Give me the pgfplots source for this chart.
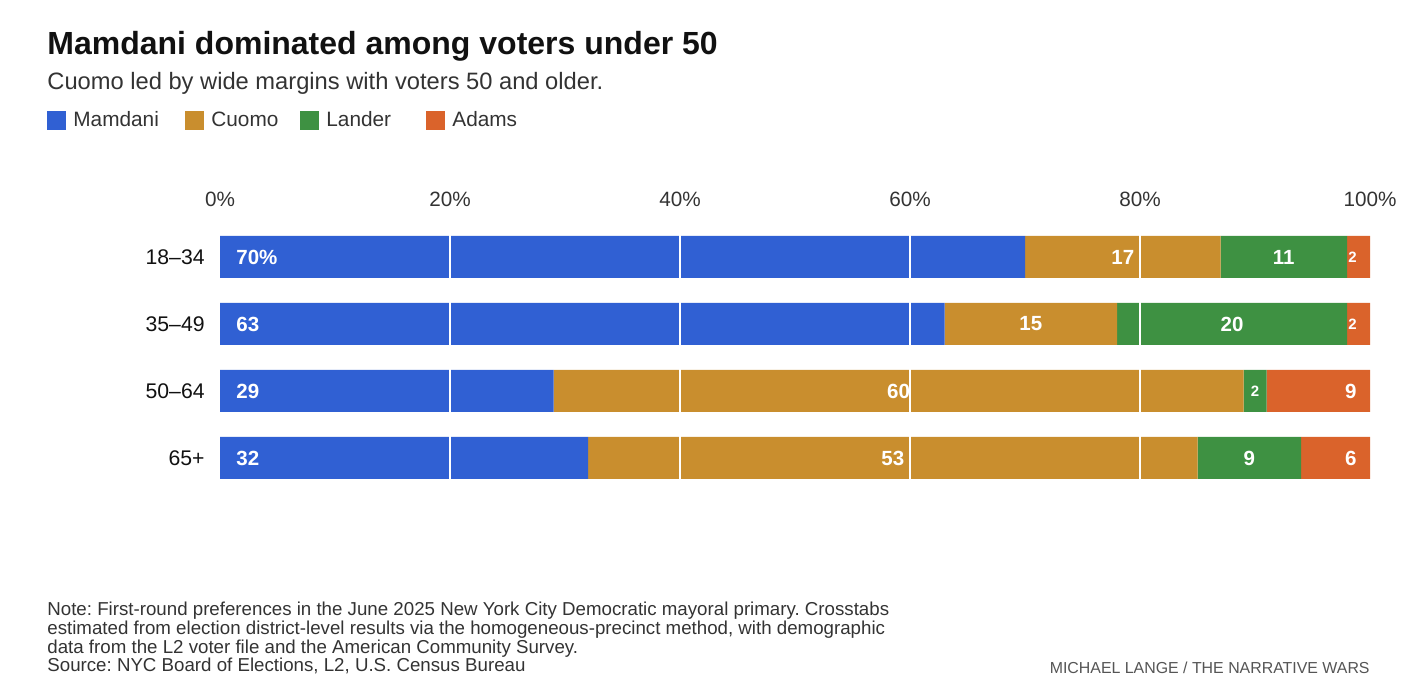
\documentclass[border=0pt]{standalone}
\usepackage{fontspec}
\setmainfont{Liberation Sans}
\usepackage{pgfplots}
\usepackage{pgfplotstable}
\pgfplotsset{compat=1.18}
\frenchspacing
\definecolor{cmam}{HTML}{3060D3}
\definecolor{ccuo}{HTML}{C98E2E}
\definecolor{clan}{HTML}{3E9142}
\definecolor{cada}{HTML}{DA632B}
\definecolor{tdark}{HTML}{111111}
\definecolor{tmid}{HTML}{333333}
\definecolor{tgray}{HTML}{555555}

\pgfplotstableread{
y mamdani cuomo lander adams
3 70 17 11 2
2 63 15 20 2
1 29 60 2 9
0 32 53 9 6
}\shares
\pgfplotstableread{
x y l
0 3 70\%
0 2 63
0 1 29
0 0 32
}\labmam
\pgfplotstableread{
x y l
78.5 3 17
70.5 2 15
59 1 60
58.5 0 53
92.5 3 11
88 2 20
89.5 0 9
}\labmid
\pgfplotstableread{
x y l
90 1 2
}\labmidsmall
\pgfplotstableread{
x y l
100 1 9
100 0 6
}\labend
\pgfplotstableread{
x y l
100 3 2
100 2 2
}\labendsmall

\pgfplotsset{
  frame/.style={at={(110pt,98.25pt)}, anchor=south west,
    scale only axis, width=575pt, height=134pt,
    xmin=0, xmax=100, ymin=-0.5, ymax=3.5},
  vlab/.style={only marks, mark=none, nodes near coords, point meta=explicit symbolic},
}

\begin{document}
\begin{tikzpicture}
\path[use as bounding box] (0,0) rectangle (710pt,344pt);
% title block
\node[anchor=base west, inner sep=0pt, text=tdark, font=\fontsize{16pt}{18pt}\selectfont\bfseries] at (23.5pt,316.5pt) {Mamdani dominated among voters under 50};
\node[anchor=base west, inner sep=0pt, text=tmid, font=\fontsize{11.85pt}{14pt}\selectfont] at (23.5pt,299pt) {Cuomo led by wide margins with voters 50 and older.};
% legend
\fill[cmam] (23.5pt,279pt) rectangle (33pt,288.5pt);
\node[anchor=base west, inner sep=0pt, text=tmid, font=\fontsize{10.4pt}{12pt}\selectfont] at (36.5pt,280.65pt) {Mamdani};
\fill[ccuo] (92.5pt,279pt) rectangle (102pt,288.5pt);
\node[anchor=base west, inner sep=0pt, text=tmid, font=\fontsize{10.4pt}{12pt}\selectfont] at (105.5pt,280.65pt) {Cuomo};
\fill[clan] (150pt,279pt) rectangle (159.5pt,288.5pt);
\node[anchor=base west, inner sep=0pt, text=tmid, font=\fontsize{10.4pt}{12pt}\selectfont] at (163pt,280.65pt) {Lander};
\fill[cada] (213pt,279pt) rectangle (222.5pt,288.5pt);
\node[anchor=base west, inner sep=0pt, text=tmid, font=\fontsize{10.4pt}{12pt}\selectfont] at (226pt,280.65pt) {Adams};

% bars
\begin{axis}[
  frame,
  xbar stacked, bar width=21pt,
  axis line style={draw=none}, major tick length=0pt, tick style={draw=none},
  xtick={0,20,40,60,80,100},
  xticklabels={0\%,20\%,40\%,60\%,80\%,100\%},
  xticklabel pos=upper,
  xticklabel style={font=\fontsize{10.35pt}{12pt}\selectfont, text=tmid, inner sep=0pt, anchor=south, yshift=8pt},
  extra x ticks={20,40,60,80}, extra x tick labels={},
  extra x tick style={grid=major, major grid style={white, line width=0.9pt}},
  ytick={0,1,2,3}, yticklabels={65+,50–64,35–49,18–34},
  yticklabel style={font=\fontsize{10.6pt}{12pt}\selectfont, text=tdark, inner sep=0pt, anchor=east, xshift=-7.5pt},
  axis on top, clip=false,
]
\addplot[fill=cmam, draw=none] table[x=mamdani, y=y] {\shares};
\addplot[fill=ccuo, draw=none] table[x=cuomo, y=y] {\shares};
\addplot[fill=clan, draw=none] table[x=lander, y=y] {\shares};
\addplot[fill=cada, draw=none] table[x=adams, y=y] {\shares};
\end{axis}

% value labels
\begin{axis}[frame, hide axis, clip=false]
\addplot[vlab,
  every node near coord/.append style={anchor=west, xshift=8pt, inner sep=0pt, text=white, font=\fontsize{10.25pt}{12pt}\selectfont\bfseries}]
  table[x=x, y=y, meta=l] {\labmam};
\addplot[vlab,
  every node near coord/.append style={anchor=center, inner sep=0pt, text=white, font=\fontsize{10.25pt}{12pt}\selectfont\bfseries}]
  table[x=x, y=y, meta=l] {\labmid};
\addplot[vlab,
  every node near coord/.append style={anchor=center, inner sep=0pt, text=white, font=\fontsize{7.5pt}{9pt}\selectfont\bfseries}]
  table[x=x, y=y, meta=l] {\labmidsmall};
\addplot[vlab,
  every node near coord/.append style={anchor=east, xshift=-6.5pt, inner sep=0pt, text=white, font=\fontsize{10.25pt}{12pt}\selectfont\bfseries}]
  table[x=x, y=y, meta=l] {\labend};
\addplot[vlab,
  every node near coord/.append style={anchor=east, xshift=-6.5pt, inner sep=0pt, text=white, font=\fontsize{7.5pt}{9pt}\selectfont\bfseries}]
  table[x=x, y=y, meta=l] {\labendsmall};
\end{axis}

% notes
\node[anchor=base west, inner sep=0pt, text=tmid, font=\fontsize{9.35pt}{11pt}\selectfont] at (23.5pt,36pt) {Note: First-round preferences in the June 2025 New York City Democratic mayoral primary. Crosstabs};
\node[anchor=base west, inner sep=0pt, text=tmid, font=\fontsize{9.35pt}{11pt}\selectfont] at (23.5pt,26.5pt) {estimated from election district-level results via the homogeneous-precinct method, with demographic};
\node[anchor=base west, inner sep=0pt, text=tmid, font=\fontsize{9.35pt}{11pt}\selectfont] at (23.5pt,17.35pt) {data from the L2 voter file and the American Community Survey.};
\node[anchor=base west, inner sep=0pt, text=tmid, font=\fontsize{9.35pt}{11pt}\selectfont] at (23.5pt,8.15pt) {Source: NYC Board of Elections, L2, U.S. Census Bureau};
\node[anchor=base east, inner sep=0pt, text=tgray, font=\fontsize{7.95pt}{10pt}\selectfont] at (685pt,7.35pt) {MICHAEL LANGE / THE NARRATIVE WARS};
\end{tikzpicture}
\end{document}
